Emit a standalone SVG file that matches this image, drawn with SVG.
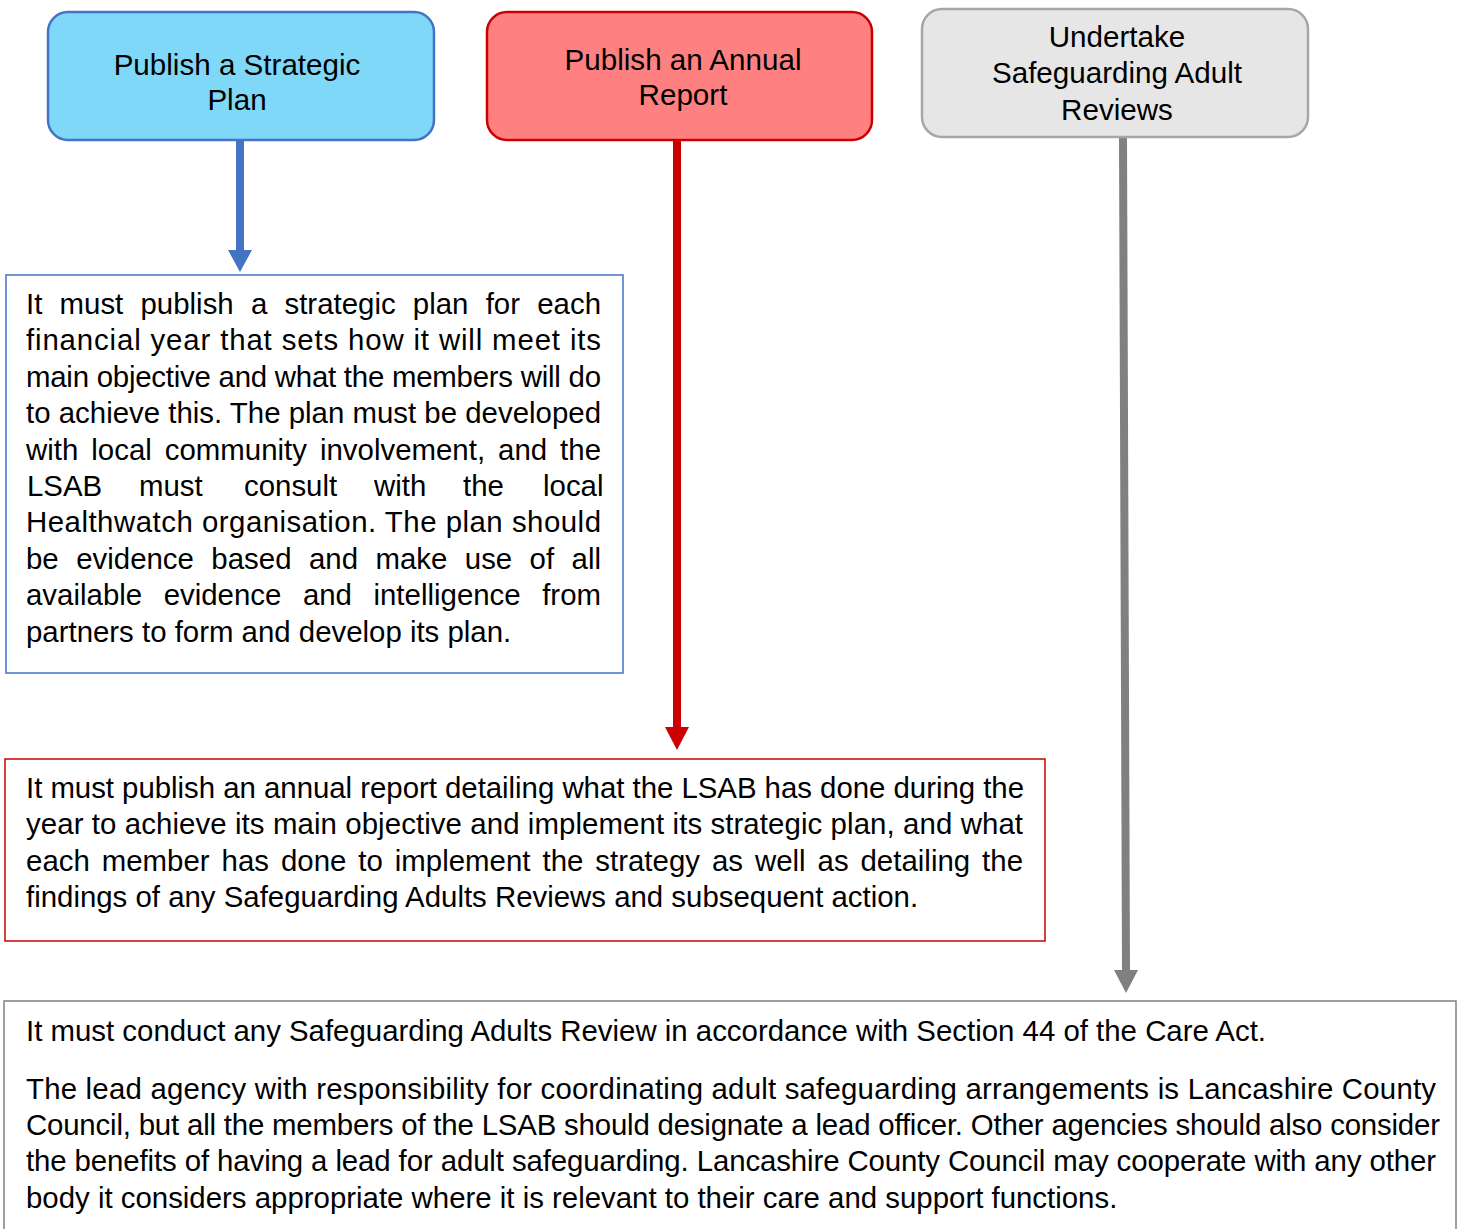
<svg xmlns="http://www.w3.org/2000/svg" width="1462" height="1229" viewBox="0 0 1462 1229">
<style>
text{font-family:"Liberation Sans",Arial,sans-serif;font-size:29.4px;fill:#000}
.c{text-anchor:middle;font-size:29.6px}
</style>
<rect width="1462" height="1229" fill="#fff"/>
<g id="connectors">
<line x1="240" y1="141" x2="240" y2="252" stroke="#4472C4" stroke-width="8"/>
<path d="M228,250 L252,250 L240,272 Z" fill="#4472C4"/>
<line x1="677" y1="141" x2="677" y2="730" stroke="#CC0000" stroke-width="8"/>
<path d="M665,727 L689,727 L677,750 Z" fill="#CC0000"/>
<line x1="1123" y1="138" x2="1126" y2="972" stroke="#808080" stroke-width="8"/>
<path d="M1114,970 L1138,970 L1126,993 Z" fill="#808080"/>
</g>
<g id="node-strategic">
<rect x="48" y="12" width="386" height="128" rx="20" fill="#80D8F8" stroke="#4472C4" stroke-width="2.5"/>
<text class="c" x="237" y="75">Publish a Strategic</text>
<text class="c" x="237" y="110">Plan</text>
</g>
<g id="node-annual">
<rect x="487" y="12" width="385" height="128" rx="20" fill="#FF8080" stroke="#CC0000" stroke-width="2.5"/>
<text class="c" x="683" y="70">Publish an Annual</text>
<text class="c" x="683" y="105">Report</text>
</g>
<g id="node-reviews">
<rect x="922" y="9" width="386" height="128" rx="20" fill="#E6E6E6" stroke="#A6A6A6" stroke-width="2.5"/>
<text class="c" x="1117" y="47">Undertake</text>
<text class="c" x="1117" y="83">Safeguarding Adult</text>
<text class="c" x="1117" y="120">Reviews</text>
</g>
<g id="node-strategic-text">
<rect x="6" y="275" width="617" height="398" fill="#fff" stroke="#4472C4" stroke-width="1.5"/>
<text x="26" y="314" word-spacing="9" textLength="575" lengthAdjust="spacing">It must publish a strategic plan for each</text>
<text x="26" y="350" textLength="575" lengthAdjust="spacing">financial year that sets how it will meet its</text>
<text x="26" y="387" textLength="575" lengthAdjust="spacing">main objective and what the members will do</text>
<text x="26" y="423" textLength="575" lengthAdjust="spacing">to achieve this. The plan must be developed</text>
<text x="26" y="460" word-spacing="4.8" textLength="575" lengthAdjust="spacing">with local community involvement, and the</text>
<text y="496"><tspan x="27">LSAB</tspan><tspan x="139">must</tspan><tspan x="244">consult</tspan><tspan x="374">with</tspan><tspan x="463">the</tspan><tspan x="543">local</tspan></text>
<text x="26" y="532" textLength="575" lengthAdjust="spacing">Healthwatch organisation. The plan should</text>
<text x="26" y="569" word-spacing="9.2" textLength="575" lengthAdjust="spacing">be evidence based and make use of all</text>
<text x="26" y="605" word-spacing="13.3" textLength="575" lengthAdjust="spacing">available evidence and intelligence from</text>
<text x="26" y="642">partners to form and develop its plan.</text>
</g>
<g id="node-annual-text">
<rect x="5" y="759" width="1040" height="182" fill="#fff" stroke="#CC0000" stroke-width="1.5"/>
<text x="26" y="798" textLength="998" lengthAdjust="spacing">It must publish an annual report detailing what the LSAB has done during the</text>
<text x="26" y="834" textLength="997" lengthAdjust="spacing">year to achieve its main objective and implement its strategic plan, and what</text>
<text x="26" y="871" word-spacing="3.7" textLength="997" lengthAdjust="spacing">each member has done to implement the strategy as well as detailing the</text>
<text x="26" y="907">findings of any Safeguarding Adults Reviews and subsequent action.</text>
</g>
<g id="node-reviews-text">
<rect x="4" y="1001" width="1452" height="240" fill="#fff" stroke="#808080" stroke-width="1.5"/>
<text x="26" y="1041">It must conduct any Safeguarding Adults Review in accordance with Section 44 of the Care Act.</text>
<text x="26" y="1099" textLength="1410" lengthAdjust="spacing">The lead agency with responsibility for coordinating adult safeguarding arrangements is Lancashire County</text>
<text x="26" y="1135" textLength="1414" lengthAdjust="spacing">Council, but all the members of the LSAB should designate a lead officer. Other agencies should also consider</text>
<text x="26" y="1171" textLength="1410" lengthAdjust="spacing">the benefits of having a lead for adult safeguarding. Lancashire County Council may cooperate with any other</text>
<text x="26" y="1208">body it considers appropriate where it is relevant to their care and support functions.</text>
</g>
</svg>
